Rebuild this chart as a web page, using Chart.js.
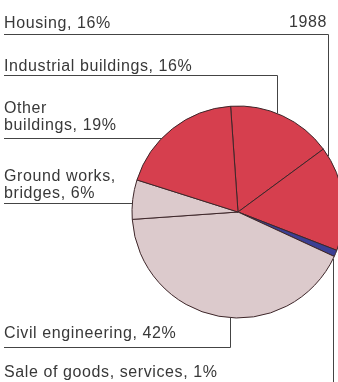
<!DOCTYPE html>
<html>
<head>
<meta charset="utf-8">
<script src="https://cdn.jsdelivr.net/npm/chart.js@4.4.1/dist/chart.umd.min.js"></script>
<style>
  html, body { margin: 0; padding: 0; background: #fff; overflow: hidden; }
  #wrap { width: 338px; height: 382px; }
</style>
</head>
<body>
<div id="wrap"><canvas id="pie" width="338" height="382"></canvas></div>
<script>
// ===== DATA =====
const year = '1988';
const sectors = ['Industrial buildings', 'Housing', 'Sale of goods, services', 'Civil engineering', 'Ground works, bridges', 'Other buildings'];
const shares = [16, 16, 1, 42, 6, 19];
const sliceColors = ['#d63f4e', '#d63f4e', '#3b3f94', '#dccacc', '#dccacc', '#d63f4e'];

// ===== CALLOUTS =====
// y = first baseline, rule = underline, wrap = words on first line,
// kind: 'down' drops to the pie top, 'up' rises to the pie bottom, 'left' runs to the pie side
const callouts = [
  { idx: 1, y: 28, rule: 34, kind: 'down', at: 328 },
  { idx: 0, y: 71, rule: 75, kind: 'down', at: 277 },
  { idx: 5, y: 113, rule: 138, kind: 'left', wrap: 1 },
  { idx: 4, y: 181, rule: 203, kind: 'left', wrap: 2 },
  { idx: 3, y: 338, rule: 347, kind: 'up', at: 230 },
  { idx: 2, y: 377, rule: 390, kind: 'up', at: 333 },
];

const FONT = '16px "Liberation Sans", Arial, sans-serif';
const INK = '#383838';
const LINE_H = 17;

function labelLines(c) {
  const words = (sectors[c.idx] + ', ' + shares[c.idx] + '%').split(' ');
  if (!c.wrap) return [words.join(' ')];
  return [words.slice(0, c.wrap).join(' '), words.slice(c.wrap).join(' ')];
}

const calloutPlugin = {
  id: 'callouts',
  afterDraw(chart) {
    const ctx = chart.ctx;
    const arc = chart.getDatasetMeta(0).data[0];
    const cx = arc.x, cy = arc.y, r = arc.outerRadius;
    ctx.save();
    ctx.font = FONT;
    if ('letterSpacing' in ctx) ctx.letterSpacing = '0.6px';
    ctx.fillStyle = INK;
    ctx.textBaseline = 'alphabetic';

    // year
    ctx.textAlign = 'right';
    ctx.fillText(year, 327, 27);

    ctx.textAlign = 'left';
    ctx.strokeStyle = '#444';
    ctx.lineWidth = 1;
    callouts.forEach(c => {
      labelLines(c).forEach((t, i) => ctx.fillText(t, 4, c.y + i * LINE_H));
      const ry = Math.round(c.rule) + 0.5;
      ctx.beginPath();
      if (c.kind === 'left') {
        const ex = cx - Math.sqrt(r * r - (c.rule - cy) * (c.rule - cy));
        ctx.moveTo(4, ry);
        ctx.lineTo(ex, ry);
      } else {
        const vx = Math.round(c.at) + 0.5;
        const dy = Math.sqrt(Math.max(r * r - (c.at - cx) * (c.at - cx), 0));
        const ey = c.kind === 'down' ? cy - dy : cy + dy;
        ctx.moveTo(4, ry);
        ctx.lineTo(vx, ry);
        ctx.lineTo(vx, ey);
      }
      ctx.stroke();
    });
    ctx.restore();
  }
};

// ===== CHART =====
new Chart(document.getElementById('pie'), {
  type: 'pie',
  data: {
    labels: sectors,
    datasets: [{
      data: shares,
      backgroundColor: sliceColors,
      borderColor: '#3d2629',
      borderWidth: 1,
      clip: false,
    }]
  },
  options: {
    responsive: false,
    animation: false,
    rotation: -4,
    radius: 106,
    layout: { padding: { left: 140, right: 2, top: 100, bottom: 58 } },
    plugins: { legend: { display: false }, tooltip: { enabled: false } },
  },
  plugins: [calloutPlugin]
});
</script>
</body>
</html>
